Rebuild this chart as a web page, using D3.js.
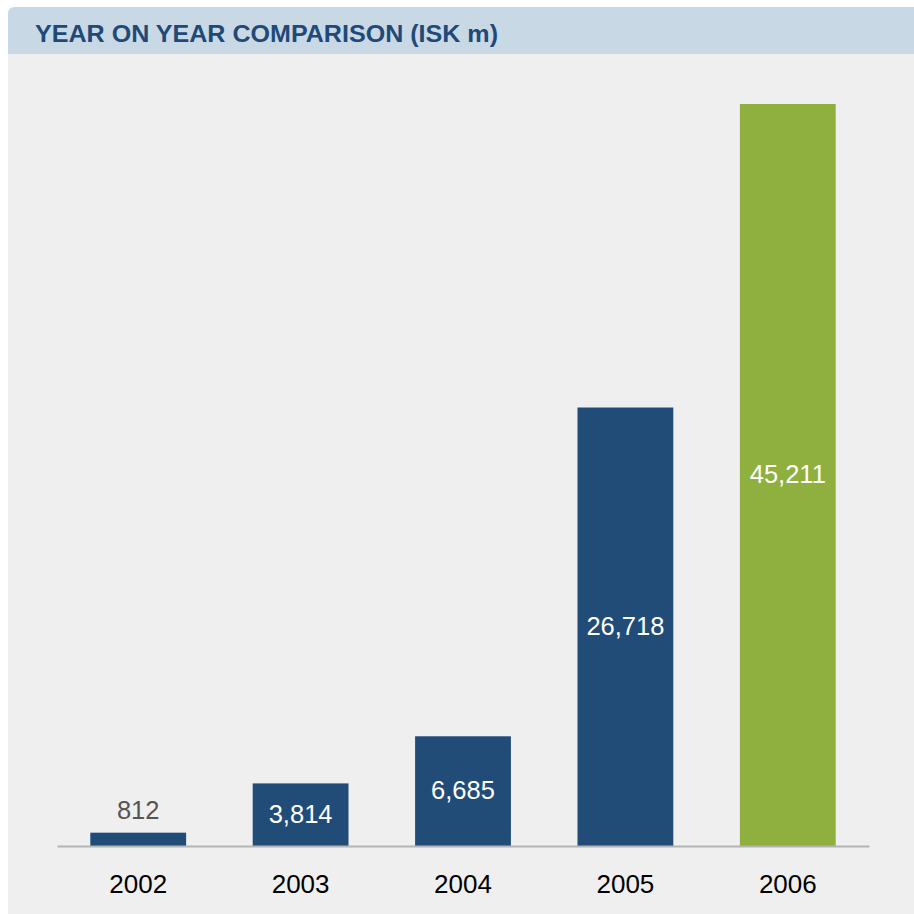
<!DOCTYPE html>
<html>
<head>
<meta charset="utf-8">
<script src="https://cdn.jsdelivr.net/npm/d3@7"></script>
<style>
  html, body { margin: 0; padding: 0; background: #ffffff; }
  svg { display: block; }
</style>
</head>
<body>
<script>
// Year-on-year totals, ISK millions
const years = ["2002", "2003", "2004", "2005", "2006"];
const values = [812, 3814, 6685, 26718, 45211];
const valueLabels = ["812", "3,814", "6,685", "26,718", "45,211"];
const highlightYear = "2006";
const title = "YEAR ON YEAR COMPARISON (ISK m)";

const W = 914, H = 914;
const svg = d3.select("body").append("svg").attr("width", W).attr("height", H);

// Panel and header band
svg.append("path")
  .attr("d", "M8,14 Q8,7 15,7 L914,7 L914,914 L8,914 Z")
  .attr("fill", "#efefef");
svg.append("path")
  .attr("d", "M8,14 Q8,7 15,7 L914,7 L914,54 L8,54 Z")
  .attr("fill", "#c9d8e5");
svg.append("text")
  .attr("x", 35).attr("y", 42)
  .attr("font-family", "Liberation Sans, Arial, sans-serif")
  .attr("font-weight", "bold")
  .attr("font-size", 24)
  .attr("fill", "#1f4a78")
  .attr("textLength", 463)
  .attr("lengthAdjust", "spacingAndGlyphs")
  .text(title);

const x = d3.scaleBand().domain(years).range([57, 869]).paddingInner(0.41).paddingOuter(0.205);
const y = d3.scaleLinear().domain([0, 45211]).range([846, 104]);

const data = years.map((yr, i) => ({ year: yr, value: values[i], label: valueLabels[i] }));

svg.append("g").selectAll("rect").data(data).join("rect")
  .attr("x", d => x(d.year))
  .attr("width", x.bandwidth())
  .attr("y", d => y(d.value))
  .attr("height", d => y(0) - y(d.value))
  .attr("fill", d => d.year === highlightYear ? "#8fb03e" : "#214c78");

// Baseline axis with year labels
const axis = svg.append("g").attr("transform", `translate(0,${y(0)})`)
  .call(d3.axisBottom(x).tickSize(0).tickPadding(29));
axis.select(".domain").attr("stroke", "#b4b4b4").attr("stroke-width", 2);
axis.selectAll("text")
  .attr("font-family", "Liberation Sans, Arial, sans-serif")
  .attr("font-size", 26)
  .attr("fill", "#000");

// Value labels: inside the bar when it is tall enough, otherwise above it
const minInside = 40;
svg.append("g").selectAll("text").data(data).join("text")
  .attr("x", d => x(d.year) + x.bandwidth() / 2)
  .attr("y", d => {
    const h = y(0) - y(d.value);
    return h >= minInside ? (y(d.value) + y(0)) / 2 + 8 : y(d.value) - 14;
  })
  .attr("text-anchor", "middle")
  .attr("font-family", "Liberation Sans, Arial, sans-serif")
  .attr("font-size", 25.5)
  .attr("fill", d => (y(0) - y(d.value)) >= minInside ? "#ffffff" : "#555555")
  .text(d => d.label);
</script>
</body>
</html>
